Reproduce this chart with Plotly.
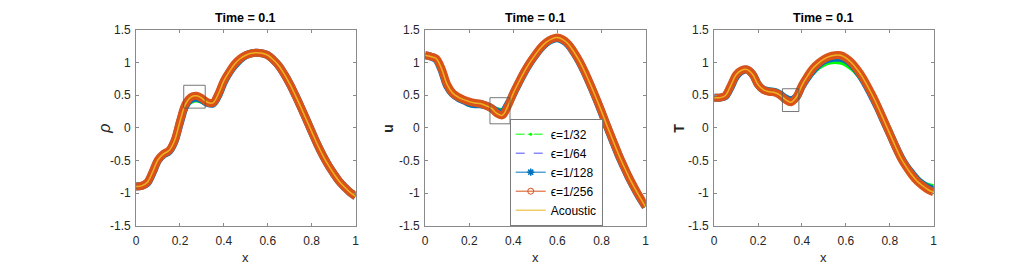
import plotly.graph_objects as go

# ---------------- data ----------------
x = [0.0, 0.025, 0.05, 0.075, 0.1, 0.125, 0.15, 0.175, 0.2, 0.225, 0.25, 0.275, 0.3, 0.325, 0.35,
     0.375, 0.4, 0.425, 0.45, 0.475, 0.5, 0.525, 0.55, 0.575, 0.6, 0.625, 0.65, 0.675, 0.7, 0.725,
     0.75, 0.775, 0.8, 0.825, 0.85, 0.875, 0.9, 0.925, 0.95, 0.975, 1.0]

series_names = ["ϵ=1/32", "ϵ=1/64", "ϵ=1/128", "ϵ=1/256", "Acoustic"]

rho_32 = [-0.90, -0.89, -0.84, -0.67, -0.47, -0.38, -0.33, -0.15, 0.14, 0.34, 0.40, 0.42, 0.40, 0.37, 0.37,
          0.51, 0.72, 0.86, 0.98, 1.06, 1.11, 1.14, 1.15, 1.14, 1.11, 1.04, 0.95, 0.82, 0.67, 0.50,
          0.32, 0.13, -0.06, -0.25, -0.42, -0.57, -0.70, -0.82, -0.91, -0.99, -1.05]
rho_64 = [-0.90, -0.89, -0.84, -0.68, -0.48, -0.39, -0.34, -0.18, 0.10, 0.35, 0.44, 0.46, 0.43, 0.38, 0.37,
          0.50, 0.71, 0.86, 0.97, 1.06, 1.11, 1.14, 1.15, 1.14, 1.11, 1.04, 0.95, 0.82, 0.67, 0.50,
          0.32, 0.13, -0.06, -0.25, -0.42, -0.57, -0.70, -0.82, -0.91, -0.99, -1.05]
rho_128 = [-0.90, -0.89, -0.85, -0.69, -0.50, -0.41, -0.36, -0.21, 0.08, 0.34, 0.44, 0.46, 0.43, 0.38, 0.37,
           0.50, 0.70, 0.85, 0.96, 1.05, 1.11, 1.14, 1.15, 1.14, 1.11, 1.04, 0.95, 0.82, 0.67, 0.50,
           0.32, 0.13, -0.06, -0.25, -0.42, -0.57, -0.70, -0.82, -0.91, -0.99, -1.05]
rho_256 = [-0.90, -0.89, -0.84, -0.68, -0.49, -0.40, -0.35, -0.20, 0.10, 0.36, 0.47, 0.49, 0.45, 0.39, 0.38,
           0.52, 0.72, 0.86, 0.98, 1.06, 1.11, 1.14, 1.15, 1.14, 1.11, 1.04, 0.95, 0.82, 0.67, 0.50,
           0.32, 0.13, -0.06, -0.25, -0.42, -0.57, -0.70, -0.82, -0.91, -0.99, -1.05]
rho_ac = rho_256

u_32 = [1.11, 1.09, 1.06, 0.90, 0.66, 0.53, 0.46, 0.40, 0.35, 0.34, 0.35, 0.34, 0.31, 0.28, 0.27,
        0.38, 0.54, 0.70, 0.86, 1.00, 1.12, 1.23, 1.31, 1.36, 1.38, 1.35, 1.28, 1.16, 1.02, 0.85,
        0.66, 0.46, 0.25, 0.03, -0.18, -0.39, -0.58, -0.76, -0.92, -1.07, -1.21]
u_64 = [1.11, 1.09, 1.06, 0.90, 0.66, 0.53, 0.47, 0.42, 0.38, 0.36, 0.36, 0.34, 0.30, 0.25, 0.23,
        0.35, 0.53, 0.70, 0.86, 1.00, 1.12, 1.23, 1.31, 1.36, 1.38, 1.35, 1.28, 1.16, 1.02, 0.85,
        0.66, 0.46, 0.25, 0.03, -0.18, -0.39, -0.58, -0.76, -0.92, -1.07, -1.21]
u_128 = [1.11, 1.09, 1.05, 0.88, 0.64, 0.52, 0.46, 0.42, 0.38, 0.36, 0.36, 0.34, 0.30, 0.25, 0.23,
         0.35, 0.52, 0.69, 0.85, 0.99, 1.11, 1.22, 1.30, 1.35, 1.37, 1.34, 1.27, 1.15, 1.01, 0.84,
         0.65, 0.45, 0.24, 0.02, -0.19, -0.40, -0.59, -0.77, -0.93, -1.08, -1.21]
u_256 = [1.11, 1.09, 1.06, 0.90, 0.66, 0.53, 0.47, 0.43, 0.40, 0.38, 0.37, 0.34, 0.30, 0.22, 0.19,
         0.33, 0.53, 0.70, 0.86, 1.00, 1.12, 1.23, 1.31, 1.36, 1.38, 1.35, 1.28, 1.16, 1.02, 0.85,
         0.66, 0.46, 0.25, 0.03, -0.18, -0.39, -0.58, -0.76, -0.92, -1.07, -1.21]
u_ac = u_256

T_32 = [0.46, 0.46, 0.49, 0.64, 0.81, 0.88, 0.89, 0.82, 0.67, 0.60, 0.58, 0.57, 0.53, 0.47, 0.44,
        0.48, 0.62, 0.74, 0.84, 0.92, 0.97, 1.00, 1.01, 1.00, 0.97, 0.91, 0.83, 0.72, 0.59, 0.44,
        0.27, 0.09, -0.09, -0.27, -0.43, -0.57, -0.68, -0.77, -0.84, -0.88, -0.90]
T_64 = [0.46, 0.46, 0.49, 0.64, 0.81, 0.88, 0.89, 0.82, 0.66, 0.59, 0.56, 0.55, 0.51, 0.45, 0.42,
        0.47, 0.64, 0.77, 0.88, 0.96, 1.02, 1.05, 1.07, 1.07, 1.04, 0.97, 0.88, 0.76, 0.61, 0.45,
        0.28, 0.09, -0.09, -0.28, -0.45, -0.59, -0.70, -0.80, -0.87, -0.92, -0.95]
T_128 = [0.46, 0.46, 0.48, 0.62, 0.79, 0.87, 0.89, 0.82, 0.66, 0.58, 0.56, 0.55, 0.51, 0.45, 0.42,
         0.47, 0.64, 0.77, 0.88, 0.97, 1.03, 1.06, 1.07, 1.07, 1.04, 0.98, 0.88, 0.76, 0.61, 0.45,
         0.28, 0.09, -0.09, -0.28, -0.45, -0.59, -0.70, -0.80, -0.87, -0.92, -0.95]
T_256 = [0.46, 0.46, 0.49, 0.64, 0.81, 0.88, 0.89, 0.82, 0.66, 0.58, 0.55, 0.54, 0.50, 0.43, 0.39,
         0.47, 0.65, 0.79, 0.91, 0.99, 1.05, 1.09, 1.11, 1.11, 1.07, 1.00, 0.90, 0.78, 0.63, 0.47,
         0.29, 0.10, -0.09, -0.28, -0.46, -0.60, -0.72, -0.82, -0.89, -0.95, -0.99]
T_ac = T_256

panels = [
    [rho_32, rho_64, rho_128, rho_256, rho_ac],
    [u_32, u_64, u_128, u_256, u_ac],
    [T_32, T_64, T_128, T_256, T_ac],
]
panel_titles = ["Time = 0.1", "Time = 0.1", "Time = 0.1"]

# zoom-box extents [x0, x1, y0, y1] per panel
boxes = [[0.217, 0.315, 0.30, 0.65], [0.294, 0.385, 0.06, 0.46], [0.311, 0.386, 0.248, 0.597]]

x_ticks = [0, 0.2, 0.4, 0.6, 0.8, 1]
x_ticktext = ["0", "0.2", "0.4", "0.6", "0.8", "1"]
y_ticks = [-1.5, -1, -0.5, 0, 0.5, 1, 1.5]
y_ticktext = ["-1.5", "-1", "-0.5", "0", "0.5", "1", "1.5"]

# ---------------- styles ----------------
W, H = 1035, 273
colors = ["#00ff00", "#5050ff", "#0072bd", "#d95319", "#edb120"]
band_widths = [4.5, 1, 8, 8, 1.5]
band_dash = ["solid", "dash", "solid", "solid", "solid"]

x_doms = [(134 / W, 355 / W), (425 / W, 647 / W), (716 / W, 937 / W)]
y_dom = (1 - 230.5 / H, 1 - 24 / H)
FONT = "Liberation Sans, Arial, Helvetica, sans-serif"
AX_COL = "#262626"
LINE_COL = "#8a8a8a"

fig = go.Figure()

for p, data in enumerate(panels):
    xa = "x" if p == 0 else f"x{p + 1}"
    ya = "y" if p == 0 else f"y{p + 1}"
    for s, yv in enumerate(data):
        fig.add_trace(go.Scatter(
            x=x, y=yv, xaxis=xa, yaxis=ya, mode="lines", showlegend=False,
            line=dict(color=colors[s], width=band_widths[s], dash=band_dash[s], shape="spline", smoothing=1.0),
            hoverinfo="skip",
        ))

# legend entries (no data points)
leg_styles = [
    dict(mode="lines+markers", line=dict(color=colors[0], width=1, dash="dashdot"),
         marker=dict(symbol="circle", size=3, color=colors[0])),
    dict(mode="lines", line=dict(color=colors[1], width=1, dash="dash")),
    dict(mode="lines+markers", line=dict(color=colors[2], width=1),
         marker=dict(symbol="asterisk-open", size=6, line=dict(color=colors[2], width=1.5))),
    dict(mode="lines+markers", line=dict(color=colors[3], width=1),
         marker=dict(symbol="circle-open", size=6, line=dict(color=colors[3], width=1))),
    dict(mode="lines", line=dict(color=colors[4], width=1)),
]
for name, st in zip(series_names, leg_styles):
    fig.add_trace(go.Scatter(x=[None], y=[None], name=name, xaxis="x2", yaxis="y2", showlegend=True, **st))

layout = dict(
    width=W, height=H, margin=dict(l=0, r=0, t=0, b=0),
    paper_bgcolor="white", plot_bgcolor="white",
    font=dict(family=FONT, size=12, color=AX_COL),
    showlegend=True,
    legend=dict(x=557 / W, xanchor="center", y=y_dom[0], yanchor="bottom",
                bgcolor="white", bordercolor="#7a7a7a", borderwidth=1,
                font=dict(size=12, color="#000000"), itemwidth=30, tracegroupgap=0),
)
annotations = []
shapes = []
for p in range(3):
    sfx = "" if p == 0 else str(p + 1)
    axis_common = dict(showgrid=False, zeroline=False, showline=True, mirror="ticks",
                       linecolor=LINE_COL, linewidth=1, ticks="inside", ticklen=3,
                       tickcolor=LINE_COL, tickwidth=1, tickfont=dict(size=12, color=AX_COL))
    layout["xaxis" + sfx] = dict(domain=list(x_doms[p]), range=[0, 1], anchor="y" + sfx,
                                 tickvals=x_ticks, ticktext=x_ticktext, ticklabelstandoff=4, **axis_common)
    layout["yaxis" + sfx] = dict(domain=list(y_dom), range=[-1.5, 1.5], anchor="x" + sfx,
                                 tickvals=y_ticks, ticktext=y_ticktext, ticklabelstandoff=2, **axis_common)
    xc = (x_doms[p][0] + x_doms[p][1]) / 2
    annotations.append(dict(text="<b>" + panel_titles[p] + "</b>", xref="paper", yref="paper",
                            x=xc, y=1 - 12 / H, showarrow=False, xanchor="center", yanchor="middle",
                            font=dict(size=12.5, color="#000000")))
    annotations.append(dict(text="x", xref="paper", yref="paper", x=xc, y=1 - 264 / H,
                            showarrow=False, xanchor="center", yanchor="middle",
                            font=dict(size=13, color=AX_COL)))
    b = boxes[p]
    shapes.append(dict(type="rect", xref="x" + sfx, yref="y" + sfx, x0=b[0], x1=b[1], y0=b[2], y1=b[3],
                       line=dict(color="#555555", width=0.8), layer="above"))

ylab_x = [102, 388, 681]
ylab_txt = ["<i>ρ</i>", "<b>u</b>", "<b>T</b>"]
ylab_size = [16, 14, 14]
for p in range(3):
    annotations.append(dict(text=ylab_txt[p], xref="paper", yref="paper", x=ylab_x[p] / W,
                            y=1 - 128 / H, showarrow=False, xanchor="center", yanchor="middle",
                            textangle=-90, font=dict(size=ylab_size[p], color=AX_COL)))

layout["annotations"] = annotations
layout["shapes"] = shapes
fig.update_layout(**layout)

fig.write_html("out.html", config={"displayModeBar": False, "staticPlot": True},
               post_script="document.body.style.margin='0px';document.body.style.padding='0px';")
